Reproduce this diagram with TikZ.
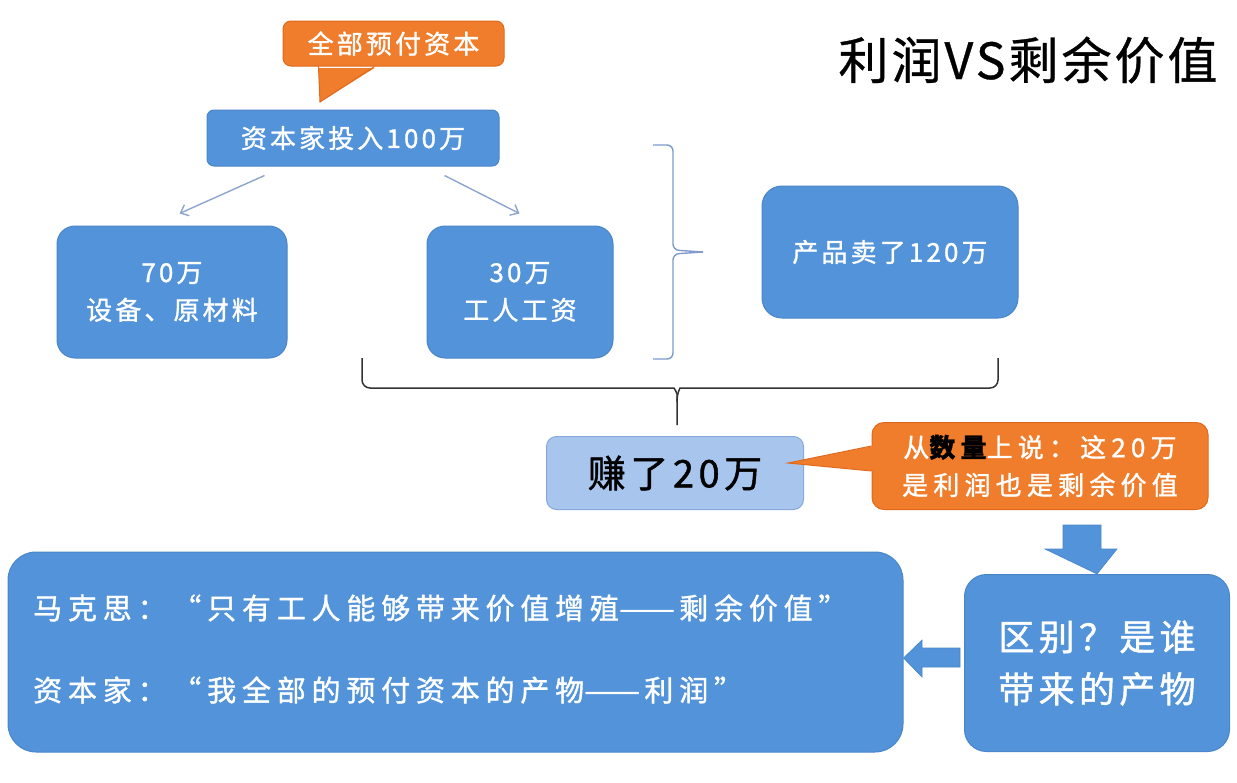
\documentclass[tikz,border=0pt]{standalone}
\usepackage{fontspec}
\setmainfont{Noto Sans CJK SC}
\newfontfamily\cjk[LetterSpace=12,FakeBold=1.2]{Noto Sans CJK SC}
\newfontfamily\cjkwide[LetterSpace=20,FakeBold=1.2]{Noto Sans CJK SC}
\newfontfamily\cjkplain[FakeBold=1.2]{Noto Sans CJK SC}
\newfontfamily\titlefont[LetterSpace=6,FakeBold=0.6]{Noto Sans CJK SC}
\usetikzlibrary{arrows.meta,calc}

\definecolor{boxblue}{HTML}{5293D9}
\definecolor{boxedge}{HTML}{4A86C8}
\definecolor{calloutorange}{HTML}{F07D2C}
\definecolor{orangeedge}{HTML}{E0691C}
\definecolor{paleblue}{HTML}{A8C5EE}
\definecolor{paleedge}{HTML}{86A9DA}
\definecolor{linkgray}{HTML}{8DA5CF}
\definecolor{bracegray}{HTML}{333333}
\definecolor{braceblue}{HTML}{7F9BCB}

\newcommand{\fs}[1]{\fontsize{#1}{1.45\dimexpr#1pt\relax}\selectfont}
% a long dash set without tracking, so it reads as one unbroken line
\newcommand{\longdash}{{\cjkplain\scalebox{1.15}[1]{——}}\hspace{0.15em}}

\tikzset{
  bluebox/.style={draw=boxedge, line width=1pt, fill=boxblue, text=white,
    align=center, inner sep=0pt, font=\cjk\fs{26}},
  orangebox/.style={draw=orangeedge, line width=1pt, fill=calloutorange, text=white,
    align=center, inner sep=0pt, rounded corners=8pt, font=\cjk\fs{26}},
  palebox/.style={draw=paleedge, line width=1pt, fill=paleblue, text=black,
    align=center, inner sep=0pt, rounded corners=10pt, font=\cjk\fs{38}},
  link/.style={draw=linkgray, line width=1.4pt, -{Straight Barb[length=7pt,width=12pt]}},
  blockarrow/.style={fill=boxblue, draw=boxedge, line width=0.6pt},
  linetext/.style={anchor=west, text=white, inner sep=0pt, font=\cjkwide\fs{29}},
}

\begin{document}
\begin{tikzpicture}[x=1pt,y=-1pt]
\useasboundingbox (0,0) rectangle (1237,782);
\fill[white] (0,0) rectangle (1237,782);

% title
\node[font=\titlefont\fs{50}, text=black, inner sep=0pt] (title) at (1028,60) {利润VS剩余价值};

% capital invested and its callout
\node[bluebox, rounded corners=7pt, minimum width=292pt, minimum height=56pt]
  (invest) at (353,138) {资本家投入100万};
\node[orangebox, minimum width=221pt, minimum height=45pt] (advance) at (393.5,43.5) {全部预付资本};
\fill[calloutorange] ($(advance.south west)+(36,1.5)$) -- (320,102) -- ($(advance.south west)+(92,1.5)$) -- cycle;
\draw[orangeedge, line width=1pt] ($(advance.south west)+(36,0)$) -- (320,102) -- ($(advance.south west)+(92,0)$);

% two parts of the capital
\node[bluebox, rounded corners=18pt, minimum width=230pt, minimum height=132pt]
  (equip) at (172,292) {70万\\设备、原材料};
\node[bluebox, rounded corners=18pt, minimum width=186pt, minimum height=132pt]
  (wages) at (520,292) {30万\\工人工资};
\draw[link] ($(invest.south west)+(58,9)$) -- ($(equip.north west)+(123,-12)$);
\draw[link] ($(invest.south west)+(238,9)$) -- ($(wages.north west)+(93,-12)$);

% sale of the product
\node[bluebox, rounded corners=20pt, minimum width=256pt, minimum height=132pt]
  (sale) at (890,252) {产品卖了120万};

% brace grouping the two parts
\draw[braceblue, line width=1.4pt, rounded corners=6pt]
  (653,145) -| (673,250) -- (703,252);
\draw[braceblue, line width=1.4pt, rounded corners=6pt]
  (653,359) -| (673,254) -- (703,252);

% brace over cost and sale
\coordinate (tip) at (677,425);
\draw[bracegray, line width=1.5pt, rounded corners=8pt]
  (362,358) |- (666,388) .. controls (674,388) and (677,393) .. (677,402) -- (tip);
\draw[bracegray, line width=1.5pt, rounded corners=8pt]
  (998,358) |- (688,388) .. controls (680,388) and (677,393) .. (677,402);

% the gain and its callout
\node[palebox, minimum width=257pt, minimum height=73pt] (gain) at (675,473) {赚了20万};
\node[orangebox, rounded corners=12pt, minimum width=336pt, minimum height=87pt,
  font=\cjkwide\fs{26}]
  (same) at (1040,466) {从{\color{black}\bfseries 数量}上说：这20万\\是利润也是剩余价值};
\fill[calloutorange] ($(same.west)+(1.5,-20)$) -- (788,463) -- ($(same.west)+(1.5,5)$) -- cycle;
\draw[orangeedge, line width=1pt] ($(same.west)+(0,-20)$) -- (788,463) -- ($(same.west)+(0,5)$);

% question box
\node[bluebox, rounded corners=22pt, minimum width=265pt, minimum height=177pt, font=\cjk\fs{36}]
  (why) at (1097,663) {区别？是谁\\带来的产物};
\draw[blockarrow] (1063,525) -- (1101,525) -- (1101,549) -- (1117,549) -- (why.north)
  -- (1045,549) -- (1063,549) -- cycle;

% the two views
\node[bluebox, rounded corners=28pt, minimum width=895pt, minimum height=200pt] (views) at (455.5,652) {};
\node[linetext] (marx) at (33,608) {马克思：“只有工人能够带来价值增殖\longdash 剩余价值”};
\node[linetext] (capitalist) at (33,690) {资本家：“我全部的预付资本的产物\longdash 利润”};
\draw[blockarrow] (960,648) -- (922,648) -- (922,640) -- (views.east |- 0,658)
  -- (922,677) -- (922,667) -- (960,667) -- cycle;
\end{tikzpicture}
\end{document}
